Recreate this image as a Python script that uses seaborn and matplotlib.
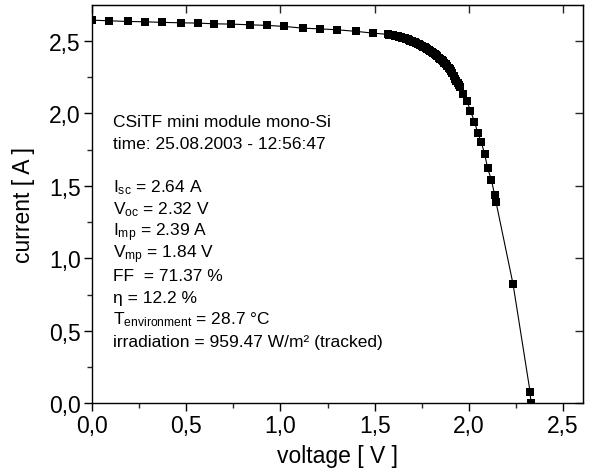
import pandas as pd
import matplotlib
matplotlib.use('Agg')
import matplotlib.pyplot as plt
import seaborn as sns

voltage = [0.00, 0.09, 0.19, 0.28, 0.37, 0.47, 0.56, 0.65, 0.74, 0.84, 0.93,
           1.02, 1.12, 1.21, 1.30, 1.40, 1.49,
           1.570, 1.578, 1.585, 1.593, 1.600, 1.608, 1.615, 1.623, 1.630,
           1.638, 1.645, 1.653, 1.660, 1.668, 1.675, 1.683, 1.690, 1.698,
           1.705, 1.713, 1.720, 1.728, 1.735, 1.743, 1.750, 1.758, 1.765,
           1.773, 1.780, 1.788, 1.795, 1.803, 1.810, 1.818, 1.825, 1.833,
           1.840, 1.848, 1.855, 1.863, 1.870, 1.878, 1.885, 1.893, 1.900,
           1.907, 1.913, 1.920, 1.927, 1.934, 1.940, 1.947, 1.953,
           1.970, 1.990, 2.008, 2.030, 2.047, 2.065, 2.084, 2.100, 2.120,
           2.137, 2.144, 2.235, 2.325, 2.330]
current = [2.643, 2.639, 2.634, 2.632, 2.628, 2.625, 2.623, 2.618, 2.616, 2.611, 2.607,
           2.600, 2.588, 2.583, 2.577, 2.566, 2.554,
           2.545, 2.544, 2.542, 2.540, 2.538, 2.536, 2.534, 2.531, 2.529,
           2.526, 2.523, 2.520, 2.517, 2.514, 2.510, 2.506, 2.502, 2.498,
           2.494, 2.490, 2.485, 2.481, 2.476, 2.471, 2.466, 2.461, 2.455,
           2.449, 2.443, 2.437, 2.430, 2.423, 2.416, 2.409, 2.401, 2.393,
           2.385, 2.376, 2.367, 2.358, 2.348, 2.338, 2.327, 2.315, 2.303,
           2.290, 2.278, 2.260, 2.240, 2.225, 2.210, 2.197, 2.184,
           2.135, 2.088, 2.019, 1.943, 1.867, 1.805, 1.720, 1.620, 1.540,
           1.437, 1.390, 0.820, 0.080, 0.000]

xticks = [0.0, 0.5, 1.0, 1.5, 2.0, 2.5]
xtick_labels = ['0,0', '0,5', '1,0', '1,5', '2,0', '2,5']
yticks = [0.0, 0.5, 1.0, 1.5, 2.0, 2.5]
ytick_labels = ['0,0', '0,5', '1,0', '1,5', '2,0', '2,5']

info_lines = [
    'CSiTF mini module mono-Si',
    'time: 25.08.2003 - 12:56:47',
    '',
    r'$\mathregular{I_{sc}}$ = 2.64 A',
    r'$\mathregular{V_{oc}}$ = 2.32 V',
    r'$\mathregular{I_{mp}}$ = 2.39 A',
    r'$\mathregular{V_{mp}}$ = 1.84 V',
    'FF  = 71.37 %',
    'η = 12.2 %',
    r'$\mathregular{T_{environment}}$ = 28.7 °C',
    'irradiation = 959.47 W/m² (tracked)',
]

df = pd.DataFrame({'voltage': voltage, 'current': current})

sns.set_style('white')
plt.rcParams['font.family'] = ['Liberation Sans', 'DejaVu Sans']
plt.rcParams['mathtext.fontset'] = 'custom'
plt.rcParams['mathtext.rm'] = 'Liberation Sans'
plt.rcParams['mathtext.it'] = 'Liberation Sans'
plt.rcParams['text.color'] = 'black'
plt.rcParams['axes.labelcolor'] = 'black'

fig = plt.figure(figsize=(5.94, 4.77), dpi=100)
ax = fig.add_axes([0.1549, 0.1524, 0.8266, 0.8357])

sns.lineplot(data=df, x='voltage', y='current', sort=False, estimator=None,
             color='black', linewidth=0.8, marker='s', markersize=5.3,
             markeredgewidth=0, ax=ax)

ax.set_xlim(0, 2.606)
ax.set_ylim(0, 2.75)
ax.set_xticks(xticks)
ax.set_xticklabels(xtick_labels)
ax.set_yticks(yticks)
ax.set_yticklabels(ytick_labels)
ax.set_xticks([0.25, 0.75, 1.25, 1.75, 2.25], minor=True)
ax.set_yticks([0.25, 0.75, 1.25, 1.75, 2.25], minor=True)
ax.tick_params(which='major', direction='out', length=6, width=1, labelsize=16.5,
               colors='black', bottom=True, left=True, pad=2)
ax.tick_params(which='minor', direction='out', length=3.5, width=1,
               bottom=True, left=True)
for s in ax.spines.values():
    s.set_color('black')
    s.set_linewidth(1)

# Ticks oben/rechts nach innen
top = ax.secondary_xaxis('top')
top.set_xticks(xticks)
top.tick_params(direction='in', length=6, width=1, labeltop=False)
right = ax.secondary_yaxis('right')
right.set_yticks(yticks)
right.tick_params(direction='in', length=6, width=1, labelright=False)

ax.set_xlabel('voltage [ V ]', fontsize=16.5, labelpad=5)
ax.set_ylabel('current [ A ]', fontsize=16.5, labelpad=10)

y0 = 1.915
for i, line in enumerate(info_lines):
    ax.text(0.11, y0 - i * 0.1517, line, fontsize=12.5, va='baseline',
            ha='left', color='black')

fig.savefig('out.png', dpi=100)
